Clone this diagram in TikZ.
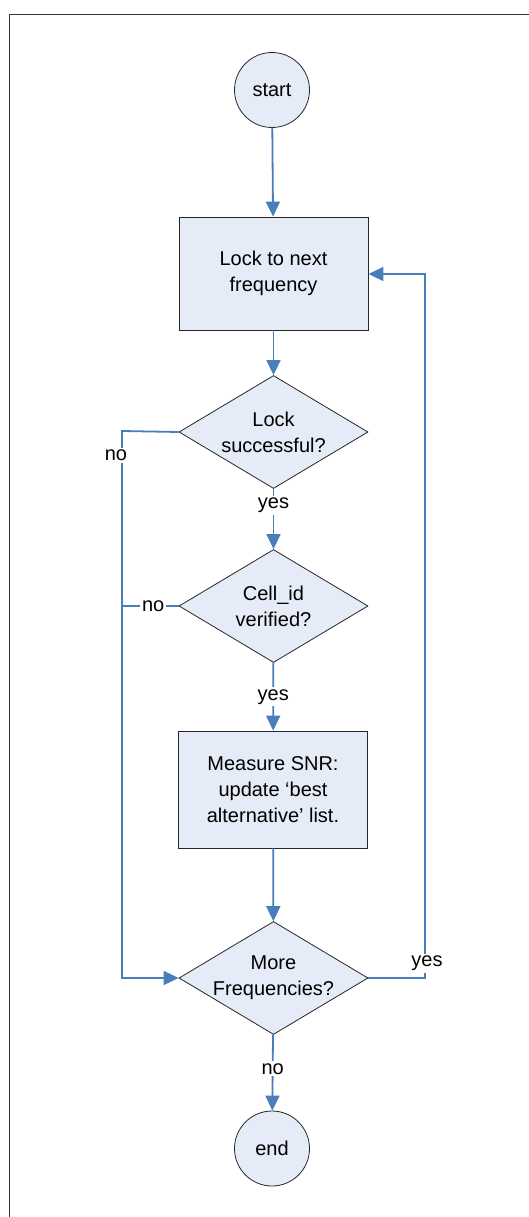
\documentclass[tikz,border=0pt]{standalone}
\usepackage{fontspec}
\setmainfont{Liberation Sans}
\usetikzlibrary{arrows.meta,shapes.geometric}
\definecolor{nodefill}{HTML}{E6ECF7}
\definecolor{flowblue}{HTML}{4A7EBB}
\begin{document}
\begin{tikzpicture}[x=1pt,y=-1pt,
  every node/.style={font=\fontsize{20}{26}\selectfont, align=center, inner sep=0pt},
  termbox/.style={circle, draw=black!85, line width=0.8pt, fill=nodefill, minimum size=75pt},
  procbox/.style={rectangle, draw=black!85, line width=0.8pt, fill=nodefill, minimum width=189pt},
  decbox/.style={diamond, draw=black!85, line width=0.8pt, fill=nodefill, minimum width=189pt, minimum height=113pt, aspect=1.67, inner sep=-7pt},
  flow/.style={draw=flowblue, line width=1.8pt},
  flowarrow/.style={flow, -{Triangle[length=15pt,width=14pt]}},
  lbl/.style={fill=white, inner sep=2pt}]
\useasboundingbox (0,0) rectangle (529,1217);
\draw[black!80, line width=0.8pt] (9,1217) -- (9,14) -- (529,14);

\node[termbox] (start) at (272,90) {start};
\node[procbox, minimum height=113pt] (lock) at (273.5,273.5) {Lock to next\\frequency};
\node[decbox] (d1) at (273.5,432) {Lock\\successful?};
\node[decbox] (d2) at (273.5,606) {Cell\_id\\verified?};
\node[procbox, minimum height=117pt] (meas) at (273,789.5) {Measure SNR:\\update ‘best\\alternative’ list.};
\node[decbox] (d3) at (273.5,978) {More\\Frequencies?};
\node[termbox] (end) at (272,1148.5) {end};

\coordinate (nl1) at (122,431);
\coordinate (nl2) at (122,978);
\coordinate (yr1) at (425,978);
\coordinate (yr2) at (425,274);

\draw[flowarrow] (start) -- (lock);
\draw[flowarrow] (lock) -- (d1);
\draw[flowarrow] (d1) -- node[lbl, pos=0.27] {yes} (d2);
\draw[flowarrow] (d2) -- node[lbl, pos=0.5] {yes} (meas);
\draw[flowarrow] (meas) -- (d3);
\draw[flowarrow] (d3) -- node[lbl, pos=0.45] {no} (end);
\draw[flowarrow] (d1.west) -- (nl1) -- node[lbl, pos=0.044, xshift=-6pt] {no} (nl2) -- (d3.west);
\draw[flow] (d2.west) -- node[lbl, pos=0.45] {no} (d2.west -| nl1);
\draw[flowarrow] (d3.east) -- (yr1) -- node[lbl, pos=0.021, xshift=2pt] {yes} (yr2) -- (lock.east |- yr2);
\end{tikzpicture}
\end{document}
